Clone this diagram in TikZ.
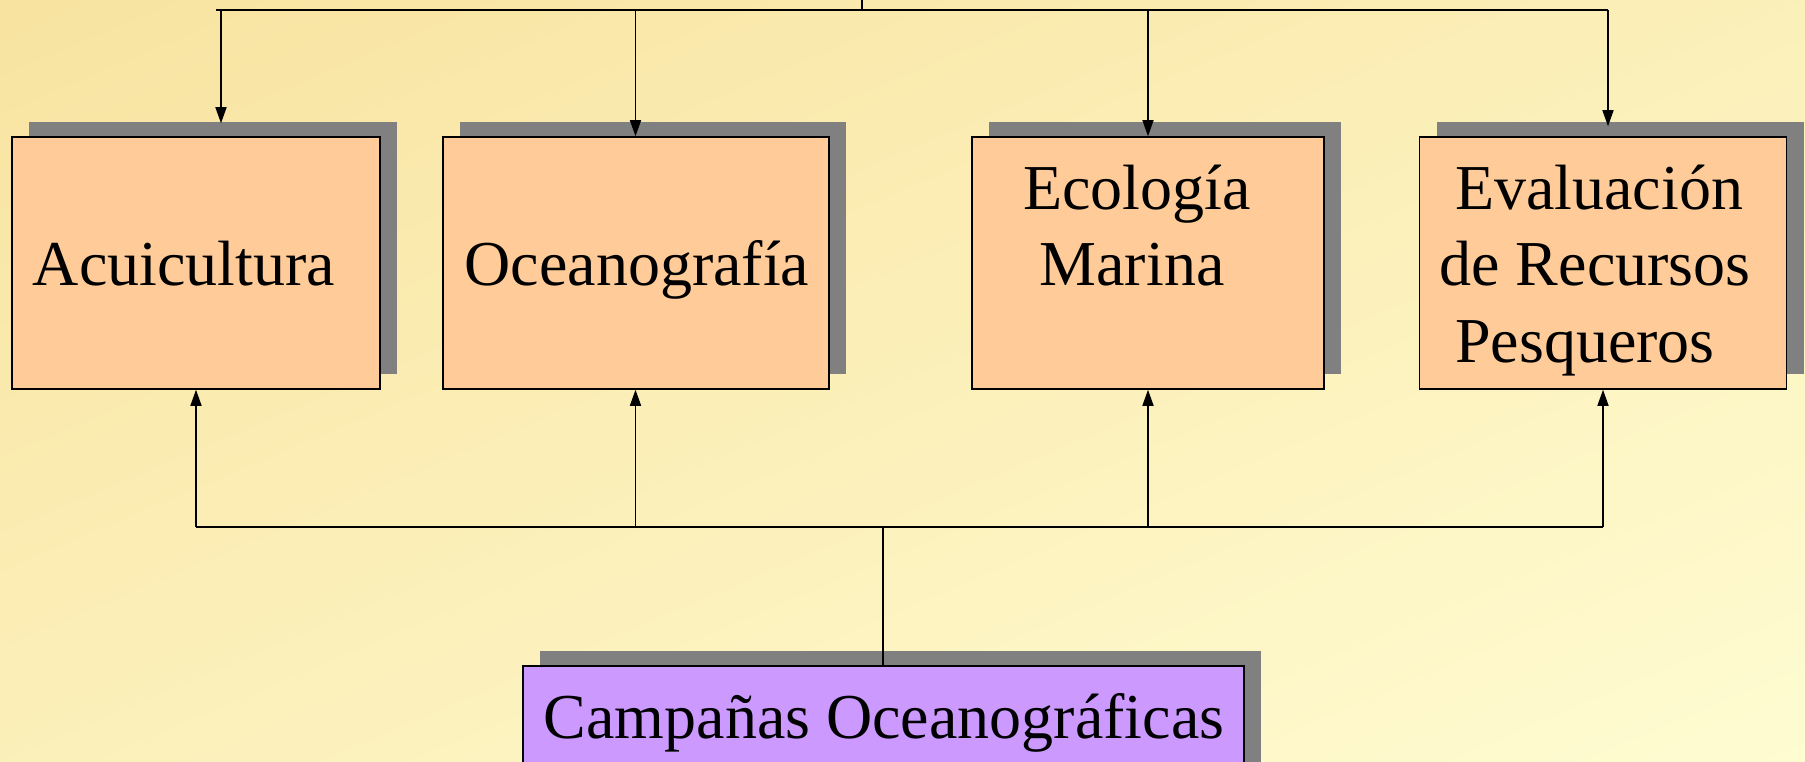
\documentclass[tikz,border=0pt]{standalone}
\usepackage{fontspec}
\setmainfont{Liberation Serif}
\usetikzlibrary{arrows.meta,shadows}
\definecolor{bgA}{RGB}{248,227,160}
\definecolor{bgB}{RGB}{255,252,210}
\definecolor{boxorange}{RGB}{255,204,153}
\definecolor{boxviolet}{RGB}{204,153,255}
\definecolor{shadowgray}{RGB}{128,128,128}
\tikzset{
  boxbase/.style={draw=black, line width=1.5pt, inner sep=0pt,
    general shadow={fill=shadowgray, shadow xshift=17pt, shadow yshift=15pt}},
  orangebox/.style={boxbase, fill=boxorange},
  violetbox/.style={boxbase, fill=boxviolet},
  lbl/.style={anchor=base, inner sep=0pt, font=\fontsize{64}{75}\selectfont},
  wire/.style={line width=1.5pt, draw=black},
  arr/.style={wire, -{Triangle[length=16pt,width=11pt]}}
}
\begin{document}
\begin{tikzpicture}[x=1pt,y=-1pt]
\useasboundingbox (0,0) rectangle (1805,762);
\clip (0,0) rectangle (1805,762);
% diagonal background gradient (top-left darker, bottom-right lighter)
\foreach \i in {0,...,79} {
  \pgfmathsetmacro\ta{\i/40}
  \pgfmathsetmacro\tb{(\i+1.4)/40}
  \pgfmathsetmacro\pc{(\i+0.5)*100/80}
  \fill[bgB!\pc!bgA] (\ta*1805,0) -- (\tb*1805,0) -- (0,\tb*762) -- (0,\ta*762) -- cycle;
}

% boxes
\node[orangebox, minimum width=368pt, minimum height=252pt] (acu) at (196,263) {};
\node[orangebox, minimum width=386pt, minimum height=252pt] (oce) at (636,263) {};
\node[orangebox, minimum width=352pt, minimum height=252pt] (eco) at (1148,263) {};
\node[orangebox, minimum width=367pt, minimum height=252pt] (eva) at (1603,263) {};
\node[violetbox, minimum width=721pt, minimum height=140pt] (cam) at (883.5,736) {};

% labels
\node[lbl] (tacu) at (184,286) {Acuicultura};
\node[lbl] (toce) at (637,286) {Oceanografía};
\node[lbl] (teco1) at (1137,210) {Ecología};
\node[lbl] (teco2) at (1132,285) {Marina};
\node[lbl] (teva1) at (1599,210) {Evaluación};
\node[lbl] (teva2) at (1595,285) {de Recursos};
\node[lbl] (teva3) at (1585,362) {Pesqueros};
\node[lbl] (tcam) at (884,738) {Campañas Oceanográficas};

% top bus
\coordinate (tstub) at (862,-5);
\coordinate (tjoin) at (862,10);
\coordinate (tleft) at (216,10);
\coordinate (ta) at (221,10);
\coordinate (to) at (635.5,10);
\coordinate (te) at (1148,10);
\coordinate (tv) at (1608,10);
\draw[wire] (tstub) -- (tjoin);
\draw[wire] (tleft) -- (tv);
\draw[arr, shorten >=13pt] (ta) -- (ta |- acu.north);
\draw[arr] (to) -- (to |- oce.north);
\draw[arr] (te) -- (te |- eco.north);
\draw[arr, shorten >=10pt] (tv) -- (tv |- eva.north);

% bottom bus
\coordinate (ba) at (196,527);
\coordinate (bo) at (635.5,527);
\coordinate (be) at (1148,527);
\coordinate (bv) at (1603,527);
\coordinate (bc) at (883,527);
\draw[wire] (ba) -- (bv);
\draw[wire] (cam.north -| bc) -- (bc);
\draw[arr] (ba) -- (ba |- acu.south);
\draw[arr] (bo) -- (bo |- oce.south);
\draw[arr] (be) -- (be |- eco.south);
\draw[arr] (bv) -- (bv |- eva.south);
\end{tikzpicture}
\end{document}
